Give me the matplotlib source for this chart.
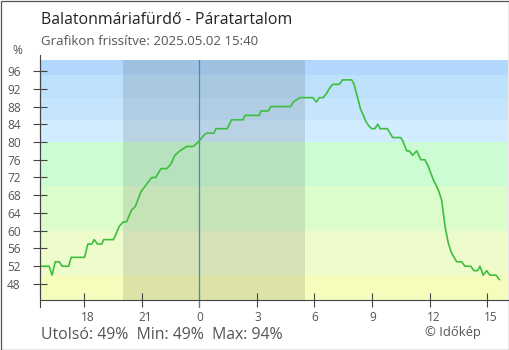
import matplotlib
matplotlib.use("Agg")
import matplotlib.pyplot as plt
from matplotlib.transforms import ScaledTranslation
from matplotlib.patches import Rectangle

plt.rcParams['font.family'] = ['Open Sans', 'DejaVu Sans']

# ---- data (hours relative to midnight of 2025-05-02) ----
hours = [-8.22, -7.84, -7.69, -7.52, -7.31, -7.17, -6.82, -6.69, -5.99, -5.82,
         -5.61, -5.49, -5.31, -5.09, -5.00, -4.48, -4.18, -3.97, -3.80, -3.54,
         -3.35, -3.05, -2.84, -2.49, -2.28, -2.01, -1.71, -1.49, -1.28, -1.02,
         -0.67, -0.32, -0.06, 0.25, 0.38, 0.76, 0.86, 1.45, 1.68, 2.28,
         2.37, 3.12, 3.21, 3.59, 3.73, 4.76, 4.89, 5.24, 5.91, 6.11,
         6.25, 6.46, 6.64, 6.77, 6.95, 7.29, 7.47, 7.94, 8.06, 8.16,
         8.28, 8.41, 8.54, 8.68, 8.86, 8.98, 9.15, 9.30, 9.42, 9.80,
         9.94, 10.08, 10.50, 10.63, 10.81, 10.94, 11.12, 11.33, 11.55, 11.76,
         11.94, 12.02, 12.20, 12.46, 12.63, 12.72, 12.81, 12.98, 13.16, 13.42,
         13.68, 13.85, 14.15, 14.32, 14.51, 14.63, 14.80, 14.98, 15.15, 15.47,
         15.64]
humidity = [52, 52, 50, 53, 53, 52, 52, 54, 54, 57,
            57, 58, 57, 57, 58, 58, 61, 62, 62, 64.7,
            65.4, 68.8, 70, 72, 72, 74, 74, 75, 77, 78,
            79, 79, 80, 81.6, 82, 82, 83, 83, 85, 85,
            86, 86, 87, 87, 88, 88, 89, 90, 90, 89,
            90, 90, 91, 92, 93, 93, 94, 94, 93.1, 91.4,
            89.5, 87.3, 86.1, 84.6, 83.5, 83, 83, 84, 83, 83,
            82, 81, 81, 80, 78, 78, 77, 78, 76, 76,
            74.5, 73.5, 71.5, 69.2, 67, 64, 61, 57.2, 54.9, 53,
            53, 52, 52, 51, 51, 52, 50, 51, 50, 50,
            49]

band_edges = [0, 50, 60, 70, 80, 85, 90, 95, 100]
band_colors = ['#f5fcbc', '#eefccc', '#ddfccc', '#ccfcd4',
               '#d0ecfe', '#c4e5fd', '#bde0fb', '#b1d8fc']

night_start, night_end = -3.99, 5.50
xtick_pos = [-6, -3, 0, 3, 6, 9, 12, 15]
xtick_labels = ['18', '21', '0', '3', '6', '9', '12', '15']
ytick_vals = list(range(48, 97, 4))

title = 'Balatonmáriafürdő - Páratartalom'
subtitle = 'Grafikon frissítve: 2025.05.02 15:40'
summary = 'Utolsó: 49%  Min: 49%  Max: 94%'
credit = '© Időkép'

W, H = 510, 350
fig = plt.figure(figsize=(W / 100, H / 100), dpi=100)
fig.patch.set_facecolor('white')
fig.patches.append(Rectangle((0.5 / W, 0.5 / H), (W - 1) / W, (H - 1) / H,
                             transform=fig.transFigure, fill=False,
                             edgecolor='#555555', linewidth=0.9))

ax = fig.add_axes([40.5 / W, 50 / H, (508.5 - 40.5) / W, 240 / H])
ax.set_xlim(-8.29, 16.12)
ax.set_ylim(44.39, 98.48)

for lo, hi, c in zip(band_edges[:-1], band_edges[1:], band_colors):
    ax.axhspan(lo, hi, color=c, lw=0, zorder=0)
ax.axvspan(night_start, night_end, color='black', alpha=0.1, lw=0, zorder=1)
ax.axvline(0, ymin=-6.7 / 240, ymax=1, color='#3a8ccc', lw=0.9, zorder=2,
           clip_on=False)

ax.plot(hours, humidity, color='#3dbf3d', lw=1.2, zorder=3)

for s in ['top', 'right']:
    ax.spines[s].set_visible(False)
for s in ['left', 'bottom']:
    ax.spines[s].set_color('#444444')
    ax.spines[s].set_linewidth(0.8)
ax.plot([0, 0], [-6.7 / 240, 1 + 5 / 240], transform=ax.transAxes,
        color='#444444', lw=0.8, clip_on=False, zorder=4)

ax.set_yticks(ytick_vals)
ax.set_yticklabels([str(v) for v in ytick_vals])
ax.set_xticks(xtick_pos)
ax.set_xticklabels(xtick_labels)
ax.tick_params(axis='both', direction='inout', length=9.4, width=0.8,
               color='#444444', labelcolor='#555555', labelsize=8.6)
ax.tick_params(axis='y', pad=9.5)
ax.tick_params(axis='x', pad=3)
off = ScaledTranslation(-3 / 100, 0, fig.dpi_scale_trans)
for lab in ax.get_xticklabels():
    lab.set_horizontalalignment('left')
    lab.set_transform(lab.get_transform() + off)

t_title = fig.text(41 / W, 1 - 24 / H, title, fontsize=12, color='#222222', va='baseline')
t_sub = fig.text(41 / W, 1 - 45 / H, subtitle, fontsize=9.5, color='#555555', va='baseline')
fig.text(17.5 / W, 1 - 51 / H, '%', fontsize=8.6, color='#555555',
         ha='center', va='center')
t_sum = fig.text(41 / W, 1 - 339 / H, summary, fontsize=11.5, color='#555555', va='baseline')
t_cred = fig.text(481 / W, 1 - 336 / H, credit, fontsize=9.1, color='#555555',
                  ha='right', va='baseline')

renderer = fig.canvas.get_renderer()
for t, target in [(t_title, 250.7), (t_sub, 217.3), (t_sum, 243.3), (t_cred, 56.0)]:
    w = t.get_window_extent(renderer).width
    t.set_fontsize(t.get_fontsize() * target / w)

fig.savefig('out.png', dpi=100)
